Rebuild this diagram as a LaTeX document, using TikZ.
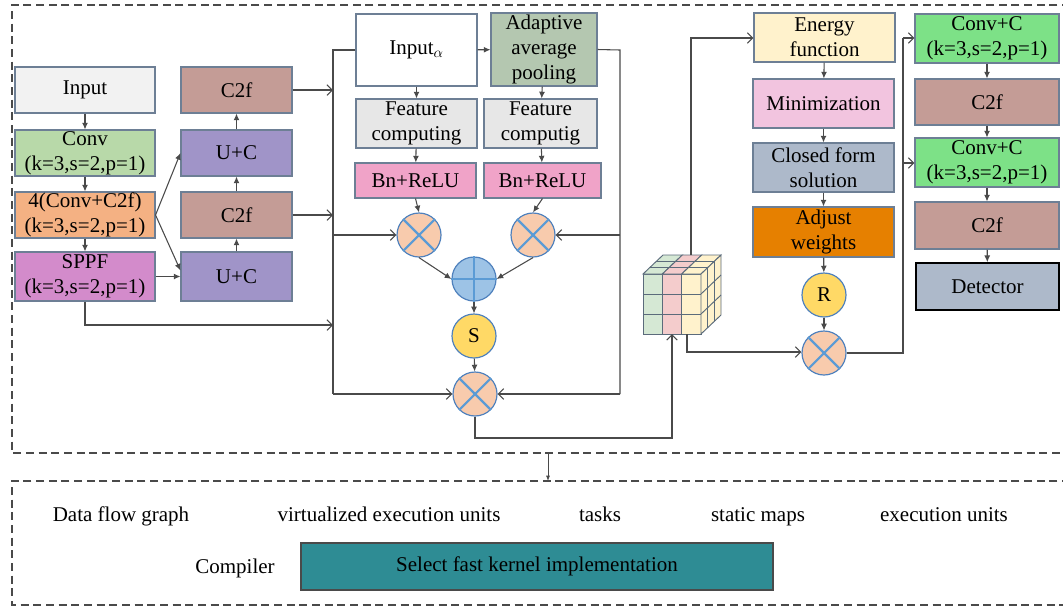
\documentclass[tikz,border=0pt]{standalone}
\usepackage{fontspec}
\setmainfont{Liberation Serif}
\newfontfamily\tnr{Liberation Serif}
\usetikzlibrary{arrows.meta}
\definecolor{bordc}{HTML}{6D7F95}
\definecolor{arrc}{HTML}{4A4A4A}
\definecolor{circb}{HTML}{4F81BD}
\definecolor{xblue}{HTML}{5B9BD5}
\definecolor{cinput}{HTML}{F2F2F2}
\definecolor{cconv}{HTML}{B8D9A9}
\definecolor{corange}{HTML}{F4B183}
\definecolor{csppf}{HTML}{D38BCB}
\definecolor{cctwof}{HTML}{C49C96}
\definecolor{cuc}{HTML}{A094C8}
\definecolor{caap}{HTML}{B4C7B0}
\definecolor{cfc}{HTML}{E7E7E7}
\definecolor{cbn}{HTML}{F0A3C8}
\definecolor{cmult}{HTML}{F8CBAD}
\definecolor{cplus}{HTML}{9DC3E6}
\definecolor{cyel}{HTML}{FFD966}
\definecolor{cenergy}{HTML}{FFF2CC}
\definecolor{cmin}{HTML}{F2C4DF}
\definecolor{cclosed}{HTML}{ADB9CA}
\definecolor{cadjust}{HTML}{E68000}
\definecolor{cconvc}{HTML}{7DE187}
\definecolor{cteal}{HTML}{2E8C94}
\definecolor{cubegreen}{HTML}{D5E8D4}
\definecolor{cubepink}{HTML}{F4CCCC}
\definecolor{cubeyellow}{HTML}{FFF2CC}
\definecolor{cubeedge}{HTML}{5B6B7B}
\tikzset{
  box/.style={draw=bordc, line width=0.8pt, inner sep=0pt, align=center,
    font=\tnr\fontsize{15.75}{19}\selectfont},
  wh/.style 2 args={minimum width=#1*0.75pt, minimum height=#2*0.75pt},
  circ/.style={circle, draw=circb, line width=0.9pt, minimum size=44*0.75pt,
    inner sep=0pt, font=\tnr\fontsize{15.75}{19}\selectfont},
  xl/.style={draw=xblue, line width=1.6pt},
  fa/.style={draw=arrc, line width=0.8pt, -{Latex[length=5pt,width=4.5pt]}},
  oa/.style={draw=arrc, line width=0.8pt, -{Straight Barb[length=4pt,width=8pt]}},
  ln/.style={draw=arrc, line width=0.8pt},
  dbox/.style={draw=arrc, line width=0.9pt, dash pattern=on 6pt off 3.5pt},
  plain/.style={font=\tnr\fontsize{15.75}{19}\selectfont, inner sep=0pt, anchor=base},
}
\begin{document}
\begin{tikzpicture}[x=0.75pt,y=-0.75pt]
\useasboundingbox (0,0) rectangle (1063,608);
% dashed frames
\draw[dbox] (1070,5) -- (12,5) -- (12,453) -- (1070,453);
\draw[dbox] (1070,481) -- (12,481) -- (12,605) -- (1070,605);
\coordinate (topb) at (548,453);
\coordinate (botb) at (548,481);
\draw[draw=arrc, line width=0.6pt, -{Latex[length=4pt,width=3pt]}] (topb) -- (botb);

% left column
\node[box, wh={140}{46}, fill=cinput] (inp) at (85,90) {Input};
\node[box, wh={140}{46}, fill=cconv] (conv) at (85,153) {Conv\\(k=3,s=2,p=1)};
\node[box, wh={140}{46}, fill=corange] (cc) at (85,215) {4(Conv+C2f)\\(k=3,s=2,p=1)};
\node[box, wh={140}{49}, fill=csppf] (sppf) at (85,276.5) {SPPF\\(k=3,s=2,p=1)};
\draw[fa] (inp) -- (conv);
\draw[fa] (conv) -- (cc);
\draw[fa] (cc) -- (sppf);

% second column
\node[box, wh={111}{46}, fill=cctwof] (c2a) at (236.5,90) {C2f};
\node[box, wh={111}{46}, fill=cuc] (uca) at (236.5,153) {U+C};
\node[box, wh={111}{46}, fill=cctwof] (c2b) at (236.5,215) {C2f};
\node[box, wh={111}{49}, fill=cuc] (ucb) at (236.5,276.5) {U+C};
\draw[fa] (ucb) -- (c2b);
\draw[fa] (c2b) -- (uca);
\draw[fa] (uca) -- (c2a);
\draw[fa] (cc.east) -- (uca.west);
\draw[fa] (cc.east) -- ([yshift=4.5pt]ucb.west);
\draw[fa] (sppf.east) -- (ucb.west);

% middle block
\node[box, wh={121}{72}, fill=white] (ina) at (416.5,50) {Input$_{\alpha}$};
\node[box, wh={106}{73}, fill=caap] (aap) at (544,49.5) {Adaptive\\average\\pooling};
\node[box, wh={121}{49}, fill=cfc] (fc1) at (416.5,123.5) {Feature\\computing};
\node[box, wh={113}{49}, fill=cfc] (fc2) at (540.5,123.5) {Feature\\computig};
\node[box, wh={121}{35}, fill=cbn] (bn1) at (415.5,180.5) {Bn+ReLU};
\node[box, wh={117}{35}, fill=cbn] (bn2) at (542.5,180.5) {Bn+ReLU};
\node[circ, fill=cmult] (m1) at (419,235) {};
\node[circ, fill=cmult] (m2) at (533,235) {};
\node[circ, fill=cplus] (pl) at (474,279) {};
\node[circ, fill=cyel] (s) at (474,336) {S};
\node[circ, fill=cmult] (m3) at (475,394) {};
\foreach \m in {m1,m2,m3} {
  \draw[xl] (\m.north east) -- (\m.south west);
  \draw[xl] (\m.north west) -- (\m.south east);
}
\draw[xl] (pl.north) -- (pl.south);
\draw[xl] (pl.west) -- (pl.east);
\draw[fa] (ina) -- (aap);
\draw[fa] (ina) -- (fc1);
\draw[fa] (aap) -- (fc2);
\draw[fa] (fc1) -- (bn1);
\draw[fa] (fc2) -- (bn2);
\draw[fa] (bn1.south) -- (m1.north);
\draw[fa] (bn2.south) -- (m2.north);
\draw[fa] (m1.south) -- (pl.west);
\draw[fa] (m2.south) -- (pl.east);
\draw[fa] (pl) -- (s);
\draw[fa] (s) -- (m3);

% left bus
\coordinate (busL) at (333,50);
\coordinate (busLm) at (333,235);
\coordinate (busLb) at (333,394);
\draw[ln] (ina.west) -- (busL) -- (busLb);
\draw[oa] (busLm) -- (m1.west);
\draw[oa] (busLb) -- (m3.west);
\draw[oa] (c2a.east) -- (c2a.east -| busL);
\draw[oa] (c2b.east) -- (c2b.east -| busL);
\coordinate (sppfd) at (85,325);
\draw[oa] (sppf.south) -- (sppfd) -- (sppfd -| busL);

% right bus
\coordinate (busR) at (620,50);
\coordinate (busRm) at (620,235);
\coordinate (busRb) at (620,394);
\draw[ln] (aap.east) -- (busR) -- (busRb);
\draw[oa] (busRm) -- (m2.east);
\draw[oa] (busRb) -- (m3.east);

% cube
\begin{scope}[draw=cubeedge, line width=0.7pt]
\foreach \i/\c in {0/cubegreen,1/cubepink,2/cubeyellow} {
  \filldraw[fill=\c] ({643+\i*58/3},274) rectangle ({643+(\i+1)*58/3},334);
  \filldraw[fill=\c] ({643+\i*58/3},274) -- ({643+(\i+1)*58/3},274)
     -- ({663+(\i+1)*58/3},255) -- ({663+\i*58/3},255) -- cycle;
}
\draw (643,294) -- (701,294);
\draw (643,314) -- (701,314);
\filldraw[fill=cubeyellow] (701,274) -- (721,255) -- (721,315) -- (701,334) -- cycle;
\foreach \k in {1,2} {
  \draw ({643+20*\k/3},{274-19*\k/3}) -- ({701+20*\k/3},{274-19*\k/3});
  \draw ({701+20*\k/3},{274-19*\k/3}) -- ({701+20*\k/3},{334-19*\k/3});
}
\draw (701,294) -- (721,275);
\draw (701,314) -- (721,295);
\end{scope}
\coordinate (cubetop) at (691,255);
\coordinate (cubebot) at (687,334);
\coordinate (cubein) at (672,334);
\coordinate (m3d) at (475,438);
\draw[oa] (m3.south) -- (m3d) -- (m3d -| cubein) -- (cubein);

% right-middle column
\node[box, wh={141}{49}, fill=cenergy] (en) at (824.5,37.5) {Energy\\function};
\node[box, wh={141}{49}, fill=cmin] (mi) at (823.5,103.5) {Minimization};
\node[box, wh={141}{49}, fill=cclosed] (cf) at (823.5,167.5) {Closed form\\solution};
\node[box, wh={141}{50}, fill=cadjust] (aw) at (823.5,232) {Adjust\\weights};
\node[circ, fill=cyel] (r) at (824,295) {R};
\node[circ, fill=cmult] (m4) at (824,353) {};
\draw[xl] (m4.north east) -- (m4.south west);
\draw[xl] (m4.north west) -- (m4.south east);
\draw[fa] (en) -- (mi);
\draw[fa] (mi) -- (cf);
\draw[fa] (cf) -- (aw);
\draw[fa] (aw) -- (r);
\draw[fa] (r) -- (m4);
\coordinate (cubeup) at (691,38);
\draw[oa] (cubetop) -- (cubeup) -- (en.west |- cubeup);
\coordinate (cubedn) at (687,352);
\draw[oa] (cubebot) -- (cubedn) -- (m4.west |- cubedn);

% right column
\node[box, wh={144}{49}, fill=cconvc] (cv1) at (987,38.5) {Conv+C\\(k=3,s=2,p=1)};
\node[box, wh={144}{46}, fill=cctwof] (c21) at (987,102) {C2f};
\node[box, wh={144}{49}, fill=cconvc] (cv2) at (987,162.5) {Conv+C\\(k=3,s=2,p=1)};
\node[box, wh={144}{47}, fill=cctwof] (c22) at (987,225.5) {C2f};
\node[box, wh={143}{47}, fill=cclosed, draw=black, line width=1.3pt] (det) at (987.5,286.5) {Detector};
\draw[fa] (cv1) -- (c21);
\draw[fa] (c21) -- (cv2);
\draw[fa] (cv2) -- (c22);
\draw[fa] (c22) -- (det);
\coordinate (rbus) at (903,353);
\coordinate (rbusT) at (903,38);
\coordinate (rbusM) at (903,163);
\draw[ln] (m4.east) -- (rbus) -- (rbusT);
\draw[oa] (rbusT) -- (cv1.west |- rbusT);
\draw[oa] (rbusM) -- (cv2.west |- rbusM);

% bottom section
\node[plain] (t1) at (121,521) {Data flow graph};
\node[plain] (t2) at (389,521) {virtualized execution units};
\node[plain] (t3) at (600,521) {tasks};
\node[plain] (t4) at (758,521) {static maps};
\node[plain] (t5) at (944,521) {execution units};
\node[plain] (comp) at (235,573) {Compiler};
\node[box, wh={472}{47}, fill=cteal, draw=arrc] (sel) at (537,566.5) {Select fast kernel implementation};
\end{tikzpicture}
\end{document}
